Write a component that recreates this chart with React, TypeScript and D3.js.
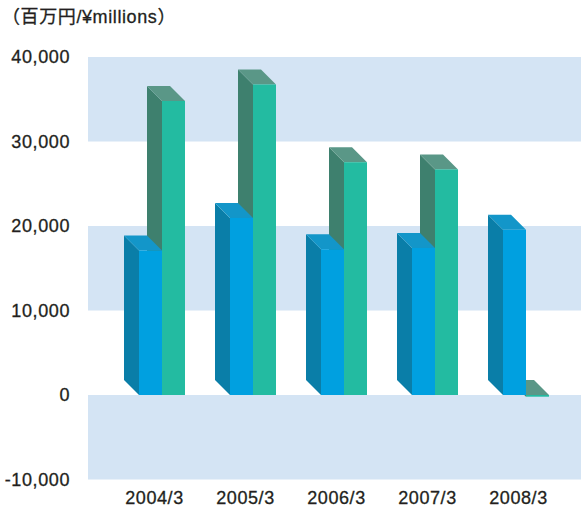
import React from "react";
import * as d3 from "d3";

// Fiscal years and the two series (¥ millions)
const years = ["2004/3", "2005/3", "2006/3", "2007/3", "2008/3"];
const blueValues = [17100, 20950, 17250, 17400, 19550];
const greenValues = [34800, 36750, 27550, 26700, -200];
const yTicks = [-10000, 0, 10000, 20000, 30000, 40000];
const bandRanges = [
  [30000, 40000],
  [10000, 20000],
  [-10000, 0],
];

const W = 581;
const H = 512;
const DEPTH = 15;
const BAR_W = 23;

const blue = { front: "#00a0e0", side: "#0a7ea8", top: "#1396c9" };
const green = { front: "#23bba1", side: "#3e806e", top: "#5a9787" };

const font = "'Liberation Sans', Arial, Helvetica, sans-serif";
const textStyle = {
  fontSize: 18,
  fontFamily: font,
  fill: "#231f20",
  stroke: "#231f20",
  strokeWidth: 0.3,
  letterSpacing: 0.6,
};

const fmt = (v) => d3.format(",")(v).replace("−", "-");

const App = () => {
  // Scales
  const x = d3.scaleBand().domain(years).range([109, 564]).padding(0);
  const y = d3.scaleLinear().domain([-10000, 40000]).range([479.5, 57]);
  const plotLeft = 88;
  const plotRight = W;

  // one 3D bar: front rect plus side and top faces pushed up-left
  const bar = (fx, v, c, key) => {
    const y0 = y(0);
    const yv = y(v);
    const top = Math.min(y0, yv);
    const bot = Math.max(y0, yv);
    const side = `${fx},${top} ${fx - DEPTH},${top - DEPTH} ${fx - DEPTH},${bot - DEPTH} ${fx},${bot}`;
    const topFace = `${fx},${top} ${fx - DEPTH},${top - DEPTH} ${fx + BAR_W - DEPTH},${top - DEPTH} ${fx + BAR_W},${top}`;
    return (
      <g key={key}>
        <polygon points={side} fill={c.side} />
        <polygon points={topFace} fill={c.top} />
        <rect x={fx} y={top} width={BAR_W} height={Math.max(bot - top, 0.01)} fill={c.front} />
      </g>
    );
  };

  return (
    <svg
      width={W}
      height={H}
      style={{ position: "absolute", left: 0, top: 0, background: "#fff" }}
    >
      {/* alternating bands */}
      {bandRanges.map(([a, b], i) => (
        <rect
          key={i}
          x={plotLeft}
          y={y(b)}
          width={plotRight - plotLeft}
          height={y(a) - y(b)}
          fill="#d4e4f4"
        />
      ))}

      {/* title / unit */}
      <text x={2} y={23} style={{ ...textStyle, fontFamily: `${font}, 'Noto Sans CJK JP'` }}>
        （百万円/¥millions）
      </text>

      {/* y axis labels */}
      {yTicks.map((t) => (
        <text key={t} x={70} y={y(t)} dy="0.36em" textAnchor="end" style={textStyle}>
          {fmt(t)}
        </text>
      ))}

      {/* bars: green drawn first so blue top face sits over green side */}
      {years.map((yr, i) => {
        const b = x(yr) + x.bandwidth() / 2 + DEPTH / 2;
        return (
          <g key={yr}>
            {bar(b, greenValues[i], green, "g")}
            {bar(b - BAR_W, blueValues[i], blue, "b")}
          </g>
        );
      })}

      {/* x labels */}
      {years.map((yr) => (
        <text
          key={yr}
          x={x(yr) + x.bandwidth() / 2}
          y={504}
          textAnchor="middle"
          style={textStyle}
        >
          {yr}
        </text>
      ))}
    </svg>
  );
};

export default App;
